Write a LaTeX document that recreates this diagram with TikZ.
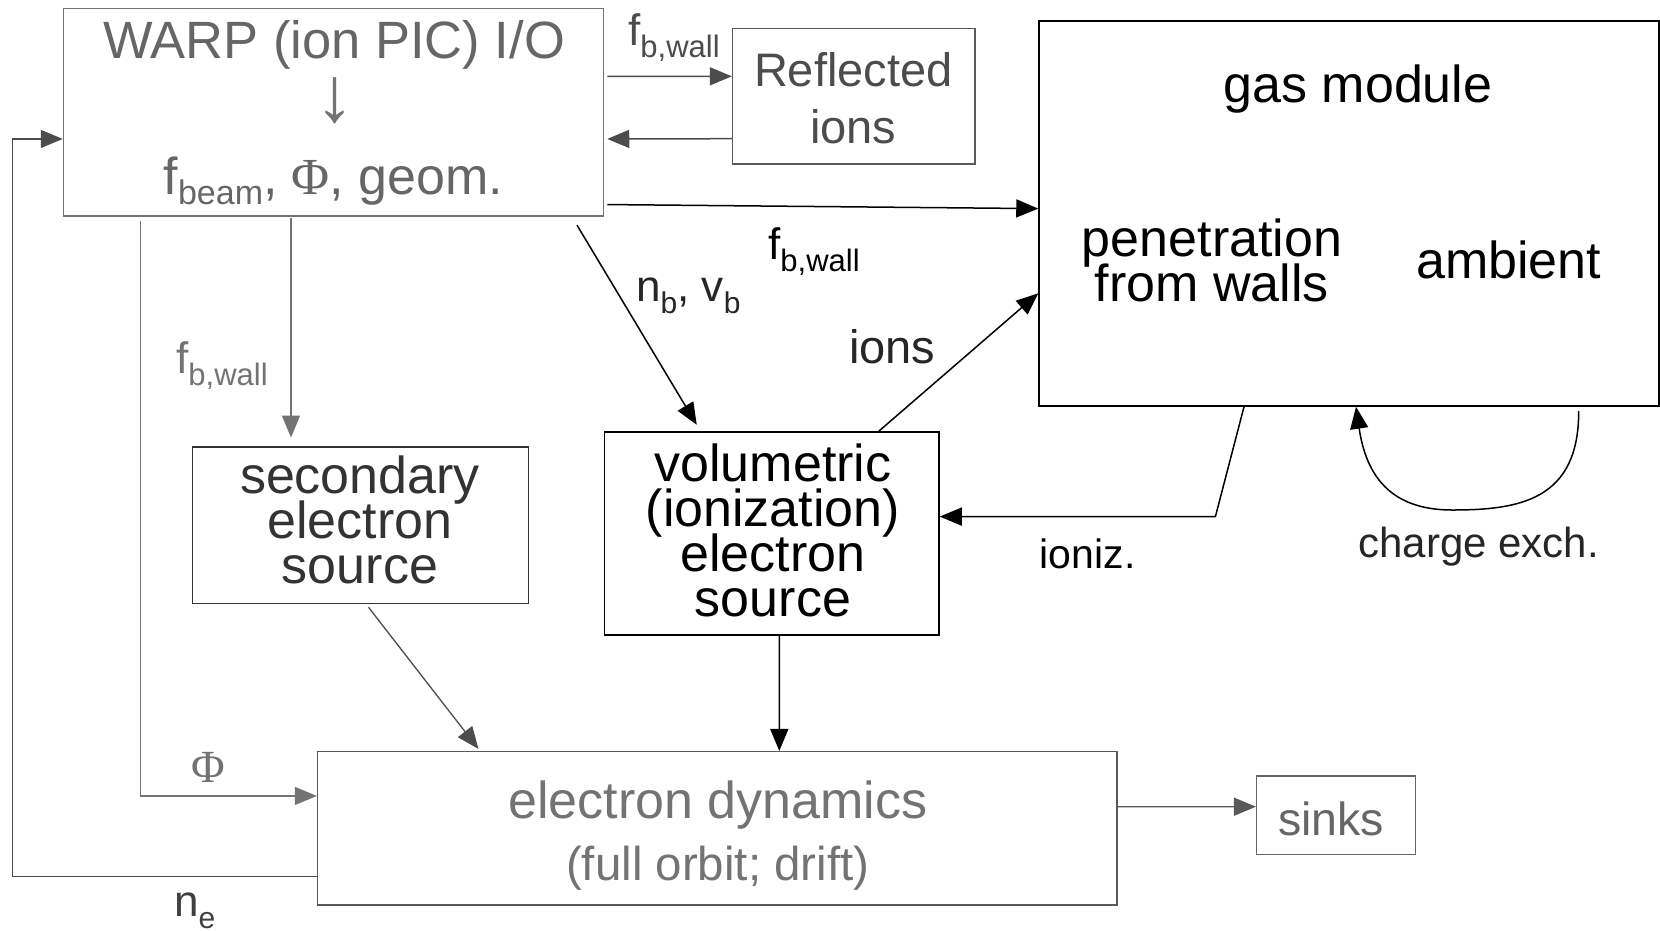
\documentclass[tikz,border=0pt]{standalone}
\usepackage{fontspec}
\setmainfont{Liberation Sans}
\newfontfamily\phifont{Liberation Serif}
\usetikzlibrary{arrows.meta}
\newcommand{\myfs}[1]{\fontsize{#1}{#1}\selectfont}
\newcommand{\mysub}[3]{\raisebox{-#1pt}{\myfs{#2}#3}}
\begin{document}
\begin{tikzpicture}[x=1pt,y=-1pt,
  box/.style={draw, line width=1.5pt, inner sep=0pt},
  txt/.style={anchor=base, inner sep=0pt, font=\myfs{52}},
  lab/.style={anchor=base west, inner sep=0pt, font=\myfs{44}},
  arr/.style={line width=1.5pt, -{Triangle[length=22pt,width=18pt]}},
  garr/.style={line width=1.1pt, -{Triangle[length=22pt,width=18pt]}}
]
\useasboundingbox (0,0) rectangle (1660,930);
\fill[white] (0,0) rectangle (1660,930);

% boxes
\node[box, draw=black!55, minimum width=540pt, minimum height=207.5pt] (warp) at (333.5,112.25) {};
\node[box, draw=black!65, minimum width=242.4pt, minimum height=135.4pt] (refl) at (853.8,96.3) {};
\node[box, draw=black, minimum width=620pt, minimum height=385pt] (gas) at (1349,213.5) {};
\node[box, draw=black!80, minimum width=335.6pt, minimum height=156.7pt] (sec) at (360.5,525.15) {};
\node[box, draw=black, minimum width=334.5pt, minimum height=203pt] (vol) at (771.75,533.5) {};
\node[box, draw=black!65, minimum width=799.4pt, minimum height=153.5pt] (ed) at (717.3,828.45) {};
\node[box, draw=black!60, minimum width=158.8pt, minimum height=78.4pt] (sinks) at (1336.1,815.2) {};

% box texts
\node[txt, text=black!60, font=\myfs{52.5}] (warp1) at (334,58) {WARP (ion PIC) I/O};
\node[inner sep=0pt, text=black!55, font=\myfs{78}] (warp2) at (334.5,100.6) {↓};
\node[txt, text=black!60] (warp3) at (333.5,194.8) {f\mysub{10}{34}{beam}, {\phifont Φ}, geom.};

\node[txt, text=black!70, font=\myfs{47}] (refl1) at (853.3,86.8) {Reflected};
\node[txt, text=black!70, font=\myfs{47}] (refl2) at (853.3,143) {ions};

\node[txt] (gas1) at (1358,102.7) {gas module};
\node[txt] (gas2) at (1212,256) {penetration};
\node[txt] (gas3) at (1212,301.7) {from walls};
\node[txt] (gas4) at (1508.6,278.4) {ambient};

\node[txt, text=black!80] (sec1) at (360,493.3) {secondary};
\node[txt, text=black!80] (sec2) at (360,538.9) {electron};
\node[txt, text=black!80] (sec3) at (360,583.3) {source};

\node[txt] (vol1) at (772.9,481.7) {volumetric};
\node[txt] (vol2) at (772.9,526.2) {(ionization)};
\node[txt] (vol3) at (772.9,571.7) {electron};
\node[txt] (vol4) at (772.9,616.2) {source};

\node[txt, text=black!55] (ed1) at (717.8,818.4) {electron dynamics};
\node[txt, text=black!55, font=\myfs{47.5}] (ed2) at (717.8,880.8) {(full orbit; drift)};

\node[txt, text=black!60, font=\myfs{46.5}] (sinks1) at (1331,835.3) {sinks};

% connectors
\draw[arr, black!70] ([xshift=3pt,yshift=35.8pt]warp.east) -- ([yshift=20pt]refl.west);
\draw[arr, black!70] ([yshift=-42.4pt]refl.west) -- ([xshift=3pt,yshift=-26.7pt]warp.east);
\draw[arr] ([xshift=3pt,yshift=-92.3pt]warp.east) -- ([yshift=4.9pt]gas.west);
\draw[arr] ([xshift=243.5pt,yshift=-8.4pt]warp.south) -- ([xshift=-75pt,yshift=6.4pt]vol.north);
\draw[arr] ([xshift=107pt]vol.north) -- ([yshift=-79.8pt]gas.west);
\draw[garr, black!55] ([xshift=-42.5pt,yshift=-1pt]warp.south) -- ([xshift=-69.5pt,yshift=8.5pt]sec.north);
\draw[garr, black!55] ([xshift=-192.7pt,yshift=-4pt]warp.south) |- ([yshift=32.5pt]ed.west);
\coordinate (nel) at (12.7,500);
\draw[arr, black!70, line width=1.3pt] ([yshift=-48pt]ed.west) -| (nel) |- ([yshift=-26.7pt]warp.west);
\draw[garr, black!70, line width=1.3pt] ([xshift=8pt,yshift=-3pt]sec.south) -- ([xshift=-238.8pt,yshift=2pt]ed.north);
\draw[arr] ([xshift=7.5pt]vol.south) -- ([xshift=62pt]ed.north);
\coordinate (ionc) at (1215.4,516.6);
\draw[arr] ([xshift=-105pt]gas.south) -- (ionc) -- ([yshift=16.9pt]vol.east);
\coordinate (cxb) at (1452,510);
\draw[arr] ([xshift=229.7pt,yshift=-4pt]gas.south) .. controls (1579,500) and (1520,510) .. (cxb) .. controls (1390,510) and (1366,475) .. ([xshift=7pt]gas.south);
\draw[garr, black!65, line width=1.3pt] ([yshift=21.8pt]ed.east) -- ([yshift=8.5pt]sinks.west);

% labels
\node[lab, text=black!70] (l1) at (628,45) {f\mysub{12}{31}{b,wall}};
\node[lab] (l2) at (768,259) {f\mysub{12}{31}{b,wall}};
\node[lab, text=black!85] (l3) at (636,301.7) {n\mysub{12}{30}{b}, v\mysub{12}{30}{b}};
\node[lab, text=black!85, font=\myfs{47}] (l4) at (849,363) {ions};
\node[lab, text=black!55] (l5) at (176,373) {f\mysub{12}{31}{b,wall}};
\node[inner sep=0pt, text=black!55, font=\phifont\myfs{46}] (l6) at (208.5,767) {Φ};
\node[lab, text=black!75] (l7) at (174,916.7) {n\mysub{12}{30}{e}};
\node[lab, font=\myfs{41}] (l8) at (1039.6,568.5) {ioniz.};
\node[lab, text=black!85, font=\myfs{42}] (l9) at (1358.3,557) {charge exch.};
\end{tikzpicture}
\end{document}
